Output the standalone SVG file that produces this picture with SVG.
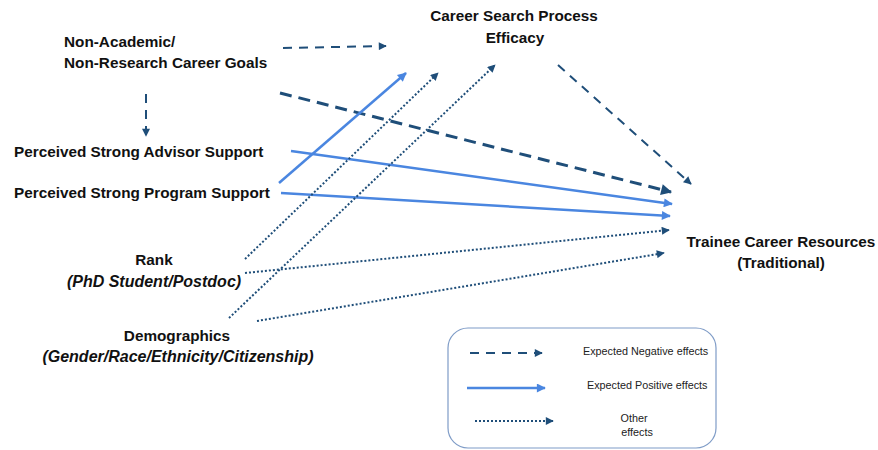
<svg xmlns="http://www.w3.org/2000/svg" width="878" height="450" viewBox="0 0 878 450">
  <style>
    .lbl { font-family: "Liberation Sans", Arial, sans-serif; font-weight: bold; font-size: 15.3px; fill: #111; }
    .it { font-style: italic; font-size: 16px; }
    .mid { text-anchor: middle; }
    .leg { font-family: "Liberation Sans", Arial, sans-serif; font-size: 10.8px; fill: #222; }
    .neg { fill: none; stroke: #1f4e79; stroke-width: 2; stroke-dasharray: 9 7; }
    .negw { fill: none; stroke: #1f4e79; stroke-width: 3; stroke-dasharray: 12 7; }
    .pos { fill: none; stroke: #4a86e0; stroke-width: 2.5; }
    .oth { fill: none; stroke: #1f4e79; stroke-width: 2; stroke-dasharray: 2 2; }
  </style>
  <defs>
    <marker id="aNeg" viewBox="0 0 10 10" refX="9" refY="5" markerWidth="9" markerHeight="8" markerUnits="userSpaceOnUse" orient="auto">
      <path d="M0,0 L10,5 L0,10 Z" fill="#1f4e79"/>
    </marker>
    <marker id="aNegW" viewBox="0 0 10 10" refX="9" refY="5" markerWidth="12" markerHeight="11" markerUnits="userSpaceOnUse" orient="auto">
      <path d="M0,0 L10,5 L0,10 Z" fill="#1f4e79"/>
    </marker>
    <marker id="aPos" viewBox="0 0 10 10" refX="9" refY="5" markerWidth="11" markerHeight="9" markerUnits="userSpaceOnUse" orient="auto">
      <path d="M0,0 L10,5 L0,10 Z" fill="#4a86e0"/>
    </marker>
    <marker id="aOth" viewBox="0 0 10 10" refX="9" refY="5" markerWidth="9" markerHeight="8" markerUnits="userSpaceOnUse" orient="auto">
      <path d="M0,0 L10,5 L0,10 Z" fill="#1f4e79"/>
    </marker>
  </defs>

  <!-- nodes -->
  <g id="goals">
    <text class="lbl" x="64" y="47">Non-Academic/</text>
    <text class="lbl" x="64" y="68">Non-Research Career Goals</text>
  </g>
  <g id="efficacy">
    <text class="lbl mid" x="514" y="21">Career Search Process</text>
    <text class="lbl mid" x="515" y="43">Efficacy</text>
  </g>
  <g id="advisor">
    <text class="lbl" x="14" y="157">Perceived Strong Advisor Support</text>
  </g>
  <g id="program">
    <text class="lbl" x="14" y="198">Perceived Strong Program Support</text>
  </g>
  <g id="rank">
    <text class="lbl mid" x="154" y="265">Rank</text>
    <text class="lbl it mid" x="154" y="287">(PhD Student/Postdoc)</text>
  </g>
  <g id="demographics">
    <text class="lbl mid" x="177" y="341">Demographics</text>
    <text class="lbl it mid" x="178" y="362">(Gender/Race/Ethnicity/Citizenship)</text>
  </g>
  <g id="resources">
    <text class="lbl mid" x="781" y="247">Trainee Career Resources</text>
    <text class="lbl mid" x="781" y="268">(Traditional)</text>
  </g>

  <!-- connectors -->
  <g id="connectors">
    <line class="neg" x1="283" y1="48" x2="386" y2="46" marker-end="url(#aNeg)"/>
    <line class="neg" x1="146" y1="94" x2="146" y2="136" marker-end="url(#aNeg)"/>
    <line class="negw" x1="280" y1="93" x2="671" y2="192" marker-end="url(#aNegW)"/>
    <line class="neg" x1="558" y1="65" x2="691" y2="184" marker-end="url(#aNeg)"/>
    <line class="pos" x1="279" y1="183" x2="406" y2="73" marker-end="url(#aPos)"/>
    <line class="pos" x1="291" y1="151" x2="672" y2="204" marker-end="url(#aPos)"/>
    <line class="pos" x1="281" y1="193" x2="670" y2="216" marker-end="url(#aPos)"/>
    <line class="oth" x1="245" y1="259" x2="438" y2="73" marker-end="url(#aOth)"/>
    <line class="oth" x1="229" y1="318" x2="495" y2="65" marker-end="url(#aOth)"/>
    <line class="oth" x1="245" y1="273" x2="669" y2="230" marker-end="url(#aOth)"/>
    <line class="oth" x1="257" y1="321" x2="664" y2="253" marker-end="url(#aOth)"/>
  </g>

  <!-- legend -->
  <g id="legend">
    <rect x="448" y="328" width="268" height="120" rx="20" ry="20" fill="none" stroke="#7f9cc7" stroke-width="1.2"/>
    <line class="neg" x1="470" y1="353" x2="542" y2="353" marker-end="url(#aNeg)"/>
    <text class="leg" x="583" y="355">Expected Negative effects</text>
    <line class="pos" x1="467" y1="388" x2="545" y2="388" marker-end="url(#aPos)"/>
    <text class="leg" x="587" y="389">Expected Positive effects</text>
    <line class="oth" x1="475" y1="421" x2="553" y2="421" marker-end="url(#aOth)"/>
    <text class="leg mid" x="634" y="422">Other</text>
    <text class="leg mid" x="637" y="436">effects</text>
  </g>
</svg>
